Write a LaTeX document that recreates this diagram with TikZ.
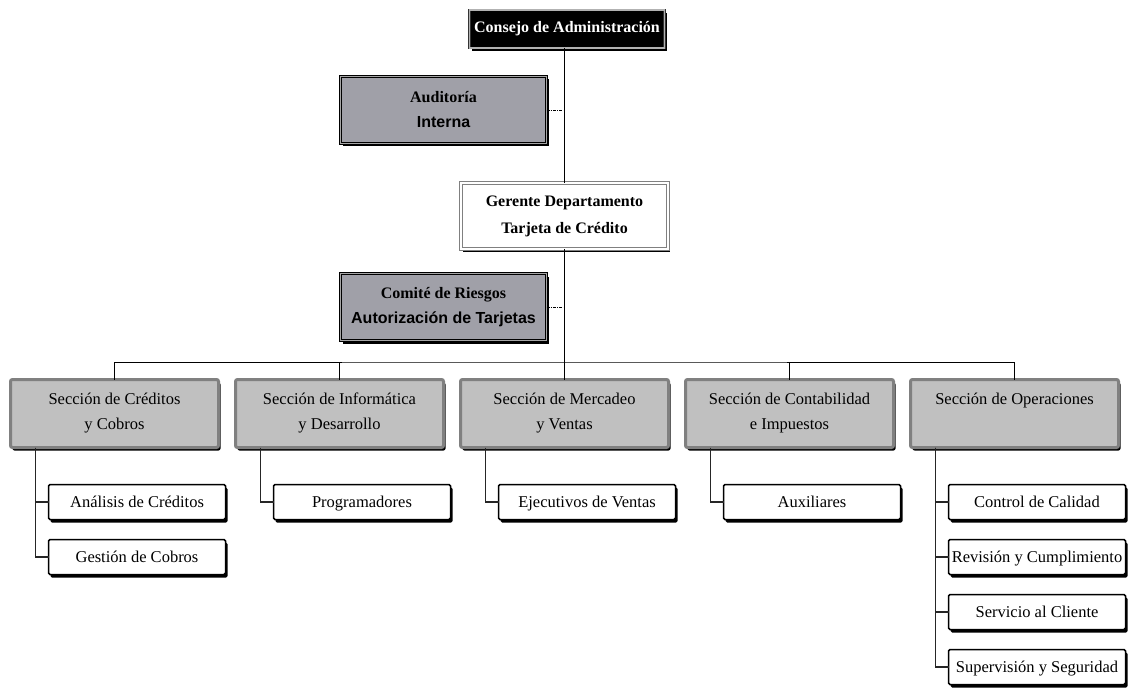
\documentclass[tikz,border=0pt]{standalone}
\usepackage{fontspec}
\setmainfont{Liberation Serif}
\newfontfamily\sansbf{Liberation Sans}
\usepackage{tikz}
\usetikzlibrary{positioning}
\usetikzlibrary{calc}
\usetikzlibrary{shadows}

\definecolor{audgray}{RGB}{160,160,168}
\definecolor{secgray}{RGB}{192,192,192}
\definecolor{secline}{RGB}{128,128,128}

\tikzset{
    caja/.style={inner sep=0pt, outer sep=0pt, align=center, font=\fontsize{16.5}{25}\selectfont},
    sombra/.style={drop shadow={shadow xshift=2pt, shadow yshift=-3pt, opacity=1, fill=black}},
    consejo/.style={caja, sombra, draw=black!80, double=gray!60, line width=0.7pt, double distance=1.2pt, fill=black, text=white, font=\fontsize{16}{25}\selectfont\bfseries, minimum width=195pt, minimum height=38pt},
    auditoria/.style={caja, sombra, draw=black, double=gray!70, line width=1pt, double distance=0.8pt, fill=audgray, font=\fontsize{16}{25}\selectfont\bfseries, minimum width=206pt, minimum height=67pt},
    gerente/.style={caja, sombra, draw=gray, double=white, line width=0.8pt, double distance=1.5pt, fill=white, font=\fontsize{16}{27}\selectfont\bfseries, minimum width=207pt, minimum height=66pt},
    seccion/.style={caja, sombra, draw=secline, line width=3pt, fill=secgray, rounded corners=2pt, minimum width=208pt, minimum height=68pt, text depth=4pt},
    sub/.style={caja, sombra, draw=black, line width=1.5pt, fill=white, rounded corners=1.5pt, minimum width=177pt, minimum height=35pt, text height=13pt, text depth=2.5pt},
    linea/.style={draw=black, line width=0.9pt},
    rama/.style={draw=black!85, line width=1.1pt},
    punteada/.style={draw=black, line width=0.8pt, dash pattern=on 3pt off 1.2pt on 1pt off 1.2pt},
}

\begin{document}
\begin{tikzpicture}[x=1pt, y=-1pt]
    \useasboundingbox (0,0) rectangle (1132,690);

    \node[consejo] (top) at (567,29) {Consejo de Administración};
    \node[auditoria] (aud) at (443.5,110) {Auditoría\\{\sansbf\bfseries Interna}};
    \node[gerente] (ger) at (564.5,216) {Gerente Departamento\\Tarjeta de Crédito};
    \node[auditoria] (com) at (443.5,307) {Comité de Riesgos\\{\sansbf\bfseries Autorización de Tarjetas}};

    \node[seccion] (sec1) at (114.5,413.5) {Sección de Créditos\\y Cobros};
    \node[seccion, right=17pt of sec1] (sec2) {Sección de Informática\\y Desarrollo};
    \node[seccion, right=17pt of sec2] (sec3) {Sección de Mercadeo\\y Ventas};
    \node[seccion, right=17pt of sec3] (sec4) {Sección de Contabilidad\\e Impuestos};
    \node[seccion, right=17pt of sec4] (sec5) {Sección de Operaciones\\\mbox{}};

    \node[sub, below right=37pt and 38pt of sec1.south west] (ana) {Análisis de Créditos};
    \node[sub, below=20pt of ana] (ges) {Gestión de Cobros};
    \node[sub, below right=37pt and 38pt of sec2.south west] (prog) {Programadores};
    \node[sub, below right=37pt and 38pt of sec3.south west] (ejec) {Ejecutivos de Ventas};
    \node[sub, below right=37pt and 38pt of sec4.south west] (aux) {Auxiliares};
    \node[sub, below right=37pt and 38pt of sec5.south west] (ctrl) {Control de Calidad};
    \node[sub, below=20pt of ctrl] (rev) {Revisión y Cumplimiento};
    \node[sub, below=20pt of rev] (serv) {Servicio al Cliente};
    \node[sub, below=20pt of serv] (sup) {Supervisión y Seguridad};

    \coordinate (bus) at (564.5,362);

    \draw[linea] (ger.north |- top.south) -- (ger.north);
    \draw[linea] (ger.south) -- (bus);
    \draw[linea] (sec1.north) |- (bus) -| (sec5.north);
    \foreach \s in {2,3,4}
        \draw[linea] (sec\s.north) -- (sec\s.north |- bus);

    \draw[punteada] (aud.east) -- (aud.east -| ger.north);
    \draw[punteada] (com.east) -- (com.east -| ger.north);

    \draw[rama] ([xshift=25pt]sec1.south west) |- (ana.west);
    \draw[rama] ([xshift=25pt]sec1.south west) |- (ges.west);
    \draw[rama] ([xshift=25pt]sec2.south west) |- (prog.west);
    \draw[rama] ([xshift=25pt]sec3.south west) |- (ejec.west);
    \draw[rama] ([xshift=25pt]sec4.south west) |- (aux.west);
    \foreach \n in {ctrl,rev,serv,sup}
        \draw[rama] ([xshift=25pt]sec5.south west) |- (\n.west);
\end{tikzpicture}
\end{document}
